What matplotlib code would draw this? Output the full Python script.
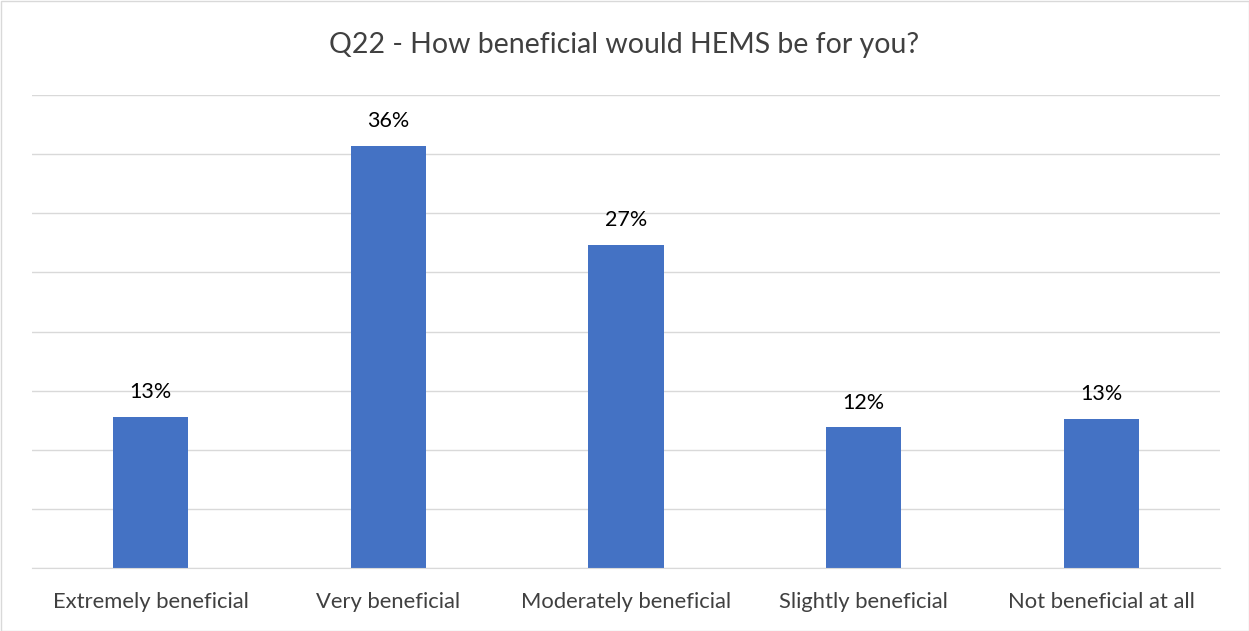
import matplotlib.pyplot as plt
import numpy as np

categories = ['Extremely beneficial', 'Very beneficial', 'Moderately beneficial',
              'Slightly beneficial', 'Not beneficial at all']
values = [12.8, 35.7, 27.3, 11.9, 12.6]
labels = ['13%', '36%', '27%', '12%', '13%']

plt.rcParams['font.family'] = ['Lato', 'DejaVu Sans']

fig = plt.figure(figsize=(12.49, 6.31), dpi=100)
ax = fig.add_axes([32 / 1249, 1 - 568 / 631, (1220 - 32) / 1249, (568 - 95) / 631])

x = np.arange(len(categories))
bars = ax.bar(x, values, width=0.316, color='#4472C4', zorder=3)
for b, lab in zip(bars, labels):
    ax.text(b.get_x() + b.get_width() / 2, b.get_height() + 1.25, lab,
            ha='center', va='bottom', fontsize=15.5, color='#000000')

ax.set_xlim(-0.5, len(categories) - 0.5)
ax.set_ylim(0, 40)
ax.set_yticks(np.arange(0, 41, 5))
ax.set_yticklabels([])
ax.tick_params(axis='y', length=0)
ax.tick_params(axis='x', length=0, pad=17, labelsize=15.8, labelcolor='#404040')
ax.set_xticks(x)
ax.set_xticklabels(categories)
ax.grid(axis='y', color='#D9D9D9', linewidth=1, zorder=0)
for s in ['top', 'right', 'left']:
    ax.spines[s].set_visible(False)
ax.spines['bottom'].set_color('#D9D9D9')
ax.spines['bottom'].set_zorder(4)

fig.text(0.5, 1 - 45 / 631, 'Q22 - How beneficial would HEMS be for you?',
         ha='center', va='center', fontsize=20.5, color='#404040')

border = plt.Rectangle((0.5 / 1249, 0.5 / 631), 1 - 1 / 1249, 1 - 1 / 631,
                       transform=fig.transFigure, fill=False,
                       edgecolor='#D9D9D9', linewidth=1)
fig.patches.append(border)

fig.savefig('out.png', dpi=100)
